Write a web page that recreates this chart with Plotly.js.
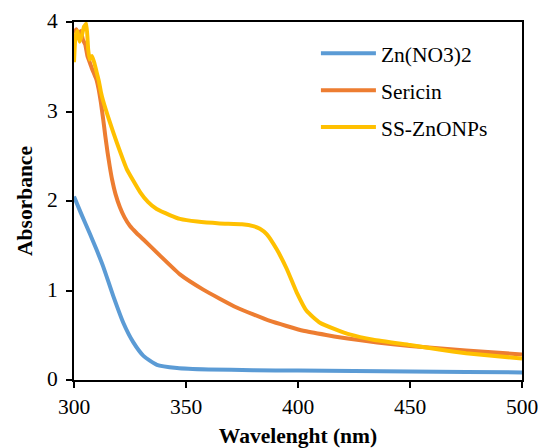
<!DOCTYPE html>
<html>
<head>
<meta charset="utf-8">
<script src="https://cdn.plot.ly/plotly-3.0.1.min.js"></script>
<style>html,body{margin:0;padding:0;background:#fff}#chart{width:538px;height:448px}</style>
</head>
<body>
<div id="chart"></div>
<script>
const seriesNames = ["Zn(NO3)2", "Sericin", "SS-ZnONPs"];

const wlZn = [300, 303, 307, 310, 313, 317.5, 322, 326.5, 331, 337, 346, 360, 380, 400, 425, 450, 475, 500];
const absZn = [2.05, 1.87, 1.64, 1.46, 1.27, 0.94, 0.64, 0.42, 0.27, 0.17, 0.135, 0.118, 0.11, 0.105, 0.10, 0.095, 0.09, 0.085];

const wlSer = [300, 301, 302, 303, 304, 305, 306, 307, 308, 309, 310, 311, 312, 313, 314, 315, 316, 317, 318.5, 320.5, 322.5, 325, 328, 331, 338.4, 347.3, 357.7, 372.6, 387.5, 402.4, 423, 450, 475, 500];
const absSer = [3.88, 3.92, 3.86, 3.9, 3.8, 3.75, 3.62, 3.55, 3.48, 3.42, 3.36, 3.25, 3.1, 2.92, 2.72, 2.54, 2.38, 2.24, 2.08, 1.93, 1.82, 1.72, 1.64, 1.57, 1.39, 1.18, 1.01, 0.81, 0.66, 0.55, 0.46, 0.38, 0.33, 0.285];

const wlSS = [300, 300.7, 301.5, 302.5, 303.5, 304.5, 305.5, 306.3, 307, 308, 309, 310, 311, 312, 313, 316, 319, 323.5, 329.5, 333, 336.9, 343, 347.3, 355, 365, 375, 380, 383, 386, 390.5, 395, 399.4, 403.9, 409.8, 417.3, 423, 433.6, 450, 463, 475, 500];
const absSS = [3.55, 3.85, 3.9, 3.78, 3.85, 3.95, 3.98, 3.7, 3.58, 3.62, 3.55, 3.45, 3.35, 3.22, 3.12, 2.88, 2.66, 2.36, 2.10, 1.99, 1.91, 1.84, 1.80, 1.77, 1.75, 1.74, 1.72, 1.69, 1.63, 1.46, 1.24, 0.98, 0.77, 0.64, 0.56, 0.51, 0.45, 0.39, 0.34, 0.30, 0.24];

const xTicks = [300, 350, 400, 450, 500];
const yTicks = [0, 1, 2, 3, 4];

const FONT = "Liberation Serif, Times New Roman, serif";
const FS = 21.5;

const traces = [
  {x: wlZn, y: absZn, name: seriesNames[0], mode: "lines", line: {color: "#5B9BD5", width: 4, shape: "spline", smoothing: 0.6}, legendgroup: "a"},
  {x: wlSer, y: absSer, name: seriesNames[1], mode: "lines", line: {color: "#ED7D31", width: 4, shape: "spline", smoothing: 0.4}, legendgroup: "b"},
  {x: wlSS, y: absSS, name: seriesNames[2], mode: "lines", line: {color: "#FFC000", width: 4, shape: "spline", smoothing: 0.4}, legendgroup: "c"}
];

// y tick labels placed through the y scale, set further out from the axis
const yLabelAnnots = yTicks.map(v => ({
  xref: "paper", yref: "y", x: 0, y: v,
  text: String(v), showarrow: false,
  xanchor: "right", yanchor: "middle", xshift: -14, yshift: 1,
  font: {family: FONT, size: FS, color: "#000"}
}));

const layout = {
  width: 538, height: 448,
  margin: {l: 74, r: 16, t: 22, b: 68},
  paper_bgcolor: "#fff", plot_bgcolor: "#fff",
  font: {family: FONT, size: FS, color: "#000"},
  showlegend: true,
  legend: {
    x: 0.54, y: 0.97, xanchor: "left", yanchor: "top",
    bgcolor: "rgba(0,0,0,0)", borderwidth: 0,
    traceorder: "grouped", tracegroupgap: 6,
    itemwidth: 55,
    font: {family: FONT, size: FS, color: "#000"}
  },
  annotations: yLabelAnnots,
  xaxis: {
    range: [300, 500], tickvals: xTicks, ticktext: xTicks.map(String),
    showgrid: false, zeroline: false,
    showline: true, linecolor: "#000", linewidth: 2, mirror: true,
    ticks: "outside", ticklen: 6, tickwidth: 2, tickcolor: "#000",
    ticklabeloverflow: "allow",
    tickfont: {family: FONT, size: FS, color: "#000"},
    title: {text: "<b>Wavelenght (nm)</b>", font: {family: FONT, size: FS, color: "#000"}, standoff: 10}
  },
  yaxis: {
    range: [0, 4], tickvals: yTicks,
    showgrid: false, zeroline: false,
    showline: true, linecolor: "#000", linewidth: 2, mirror: true,
    ticks: "outside", ticklen: 6, tickwidth: 2, tickcolor: "#000",
    showticklabels: false,
    title: {text: "<b>Absorbance</b>", font: {family: FONT, size: FS, color: "#000"}, standoff: 27}
  }
};

Plotly.newPlot("chart", traces, layout, {displayModeBar: false, staticPlot: true});
</script>
</body>
</html>
